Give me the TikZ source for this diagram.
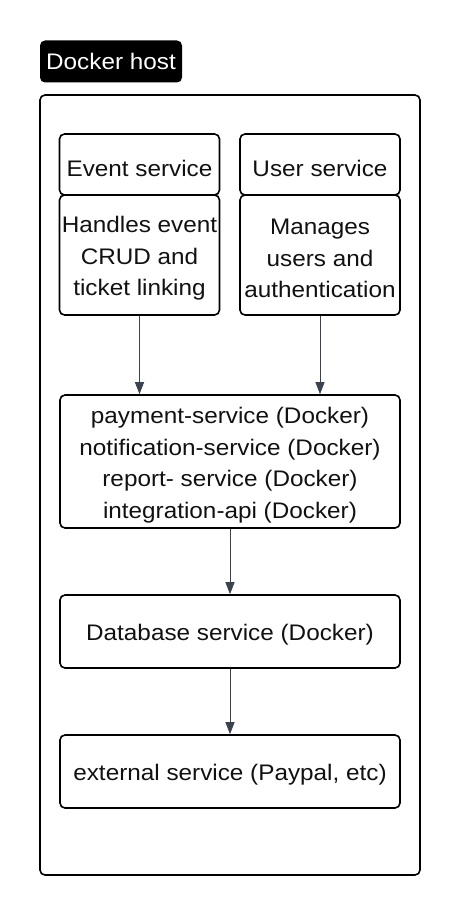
\documentclass[tikz,border=0pt]{standalone}
\usepackage{fontspec}
\setmainfont{Liberation Sans}[FakeStretch=1.08]
\usetikzlibrary{arrows.meta}
\definecolor{arrowgray}{HTML}{3B4250}
\definecolor{txt}{HTML}{111111}
\tikzset{
  boxtext/.style={align=center, text=txt, font=\fontsize{22.5}{31.5}\selectfont, inner sep=0pt, yshift=-3.5pt},
  box/.style={draw=black, line width=1.6pt, rounded corners=5pt, inner sep=0pt},
  txt/.style={label={[boxtext]center:{#1}}},
  conn/.style={draw=arrowgray, line width=0.9pt, -{Triangle[length=12pt,width=9pt]}}
}
\begin{document}
\begin{tikzpicture}[x=1pt,y=-1pt]
\useasboundingbox (0,0) rectangle (460,915);
\node[fill=black, rounded corners=5pt, text=white, minimum width=142pt, minimum height=42pt,
  inner sep=0pt, font=\fontsize{22.5}{31.5}\selectfont] (lbl) at (111,61.5) {Docker host};
\node[box, minimum width=380pt, minimum height=780pt] (host) at (230,485) {};
\node[box, minimum width=160pt, minimum height=61pt, txt={Event service}] (ev) at (139.5,164.5) {};
\node[box, minimum width=160pt, minimum height=120pt, txt={Handles event\\CRUD and\\ticket linking}] (evd) at (139.5,255) {};
\node[box, minimum width=160pt, minimum height=61pt, txt={User service}] (us) at (320,164.5) {};
\node[box, minimum width=160pt, minimum height=120pt, txt={Manages\\users and\\authentication}] (usd) at (320,255) {};
\node[box, minimum width=340pt, minimum height=133pt,
  txt={payment-service (Docker)\\notification-service (Docker)\\report- service (Docker)\\integration-api (Docker)}] (mid) at (230,461.5) {};
\node[box, minimum width=340pt, minimum height=73pt, txt={Database service (Docker)}] (db) at (230,631.5) {};
\node[box, minimum width=340pt, minimum height=73pt, txt={external service (Paypal, etc)}] (ext) at (230,771.5) {};
\draw[conn] (evd.south) -- (evd.south |- mid.north);
\draw[conn] (usd.south) -- (usd.south |- mid.north);
\draw[conn] (mid.south) -- (db.north);
\draw[conn] (db.south) -- (ext.north);
\end{tikzpicture}
\end{document}
